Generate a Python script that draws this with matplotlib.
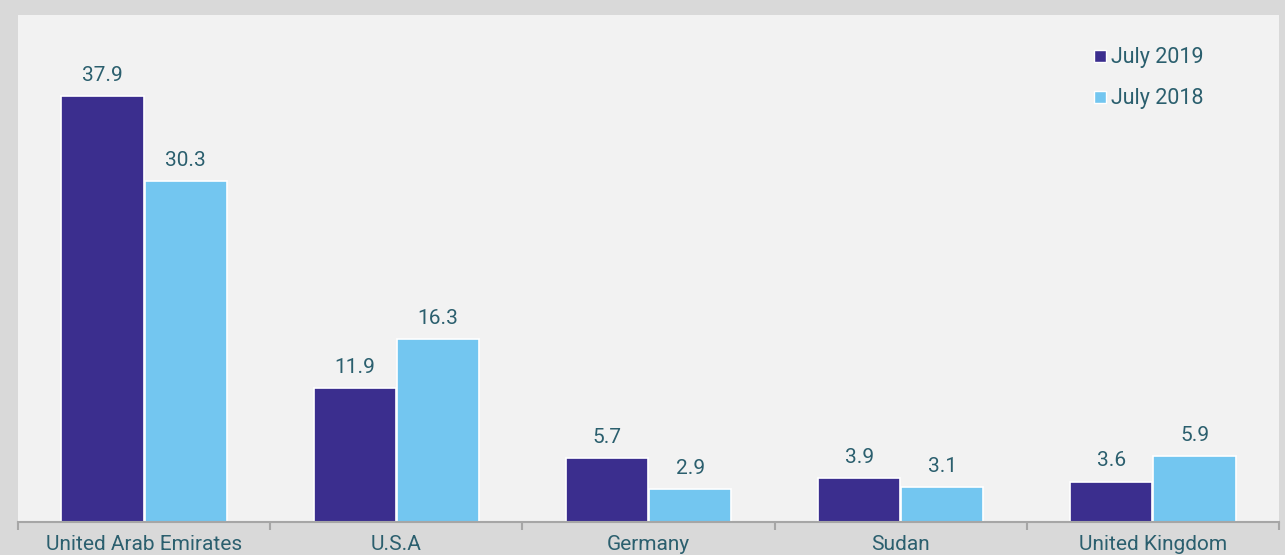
import matplotlib.pyplot as plt
from matplotlib.lines import Line2D
import numpy as np

# данные с картинки
countries = ['United Arab Emirates', 'U.S.A', 'Germany', 'Sudan', 'United Kingdom']
july_2019 = [37.9, 11.9, 5.7, 3.9, 3.6]
july_2018 = [30.3, 16.3, 2.9, 3.1, 5.9]
series_names = ['July 2019', 'July 2018']

dark = '#3b2e8e'
light = '#73c6f0'
txt = '#2b5f6e'

plt.rcParams['font.family'] = ['Roboto', 'DejaVu Sans']

fig = plt.figure(figsize=(12.85, 5.55), dpi=100)
fig.patch.set_facecolor('#d9d9d9')
ax = fig.add_axes([18 / 1285, 33 / 555, 1261 / 1285, 507 / 555])
ax.set_facecolor('#f2f2f2')

x = np.arange(len(countries))
w = 0.326
b1 = ax.bar(x - w / 2 - 0.002, july_2019, w, color=dark, edgecolor='white', linewidth=1.2)
b2 = ax.bar(x + w / 2 + 0.002, july_2018, w, color=light, edgecolor='white', linewidth=1.2)

for bars in (b1, b2):
	for r in bars:
		ax.annotate('%.1f' % r.get_height(), (r.get_x() + r.get_width() / 2, r.get_height()),
					xytext=(0, 8), textcoords='offset points', ha='center', va='bottom',
					fontsize=15, color=txt)

ax.set_xlim(-0.5, len(countries) - 0.5)
ax.set_ylim(0, 45.1)
ax.set_yticks([])
ax.set_xticks(x)
ax.set_xticklabels(countries, fontsize=15, color=txt)
ax.tick_params(axis='x', which='major', length=0, pad=9)
ax.set_xticks(np.arange(len(countries) + 1) - 0.5, minor=True)
ax.tick_params(axis='x', which='minor', length=6, width=1.5, color='#a6a6a6')

for s in ['top', 'left', 'right']:
	ax.spines[s].set_visible(False)
ax.spines['bottom'].set_color('#a6a6a6')
ax.spines['bottom'].set_linewidth(1.5)

handles = [Line2D([], [], marker='s', linestyle='none', markersize=9, markerfacecolor=c,
				  markeredgecolor='white', markeredgewidth=1) for c in (dark, light)]
leg = ax.legend(handles, series_names, loc='upper left', bbox_to_anchor=(0.834, 0.975),
				frameon=False, fontsize=15.5, handletextpad=0.0, labelspacing=0.94,
				handlelength=1.0)
for t in leg.get_texts():
	t.set_color(txt)

fig.savefig('out.png', dpi=100, facecolor=fig.get_facecolor())
